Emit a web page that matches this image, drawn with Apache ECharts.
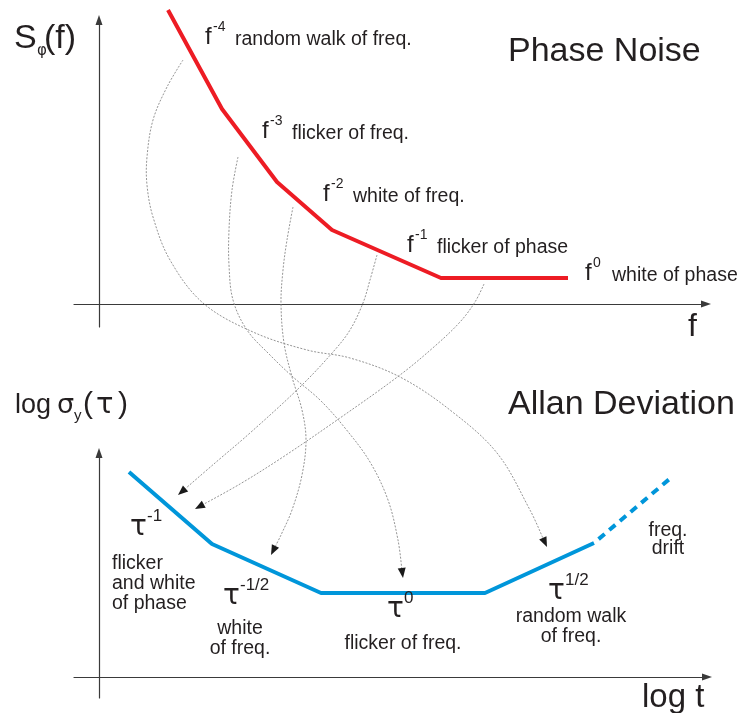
<!DOCTYPE html>
<html><head><meta charset="utf-8">
<script src="https://cdn.jsdelivr.net/npm/echarts@6/dist/echarts.min.js"></script>
<style>html,body{margin:0;padding:0;background:#fff}#c{width:743px;height:713px}</style>
</head><body><div id="c"></div>
<script>
// ---------- data (schematic units: log-frequency / log-tau, arbitrary) ----------
const psdX = [6.9, 12.3, 17.8, 23.3, 34.2, 46.9];
const psdY = [29.4, 19.5, 12.2, 7.4, 2.6, 2.6];
const adevX = [3.0, 11.3, 22.2, 38.6, 49.5];
const adevY = [20.5, 13.3, 8.4, 8.4, 13.4];
const driftX = [49.5, 57.4];
const driftY = [13.4, 20.1];

const psdExponents = ['-4', '-3', '-2', '-1', '0'];
const psdNames = ['random walk of freq.', 'flicker of freq.', 'white of freq.', 'flicker of phase', 'white of phase'];
const adevExponents = ['-1', '-1/2', '0', '1/2'];
const adevNames = [['flicker', 'and white', 'of phase'], ['white', 'of freq.'], ['flicker of freq.'], ['random walk', 'of freq.']];
const driftName = ['freq.', 'drift'];
const panelTitles = ['Phase Noise', 'Allan Deviation'];
const axisNames = ['f', 'log t'];

// connector curves (in phase-noise panel units), from PSD label to Allan segment
const linkRandomWalk = [[8.4,24.4],[6.8,21.7],[5.4,18.4],[4.8,14.7],[4.8,11.9],[5.4,8.7],[7.1,4.4],[10.4,0.1],[15.4,-2.8],[20.8,-4.6],[25.1,-5.4],[30.1,-7.3],[35.1,-10.6],[39.8,-14.9],[43.1,-20.6],[44.8,-24.3]];
const linkFlickerFreq = [[13.9,14.7],[13.3,11.4],[13.0,7.4],[13.0,3.9],[13.4,0.4],[14.8,-2.6],[17.1,-5.1],[19.4,-7.3],[22.1,-9.6],[24.6,-12.4],[27.1,-15.8],[28.9,-19.6],[29.9,-23.6],[30.4,-27.4]];
const linkWhiteFreq = [[19.4,9.7],[18.8,6.4],[18.4,3.4],[18.2,0.1],[18.5,-3.9],[19.3,-7.3],[20.3,-10.6],[20.7,-13.6],[20.3,-17.1],[19.3,-20.6],[18.2,-23.1],[17.2,-25.1]];
const linkFlickerPhase = [[27.8,4.9],[27.1,2.4],[26.4,0.1],[25.1,-2.6],[23.4,-4.8],[20.1,-8.3],[15.1,-12.9],[11.6,-15.9],[7.9,-19.1]];
const linkWhitePhase = [[38.5,2.0],[37.6,0.2],[36.1,-1.8],[33.6,-4.2],[30.1,-7.1],[24.1,-11.4],[18.4,-15.3],[14.1,-18.0],[9.6,-20.5]];
const links = [linkRandomWalk, linkFlickerFreq, linkWhiteFreq, linkFlickerPhase, linkWhitePhase];

// ---------- chart ----------
const chart = echarts.init(document.getElementById('c'), null, {renderer: 'canvas'});
const INK = '#231f20';
const SANS = '"Liberation Sans", Arial, sans-serif';
const GREEK = '"DejaVu Sans", sans-serif';

function txt(s, x, baseline, size, opt) {
  opt = opt || {};
  return {
    type: 'text', silent: true, z: 10,
    style: {
      text: s, x: x, y: baseline - 0.34 * size,
      font: (opt.weight || 'normal') + ' ' + size + 'px ' + (opt.family || SANS),
      fill: INK, align: opt.align || 'left', verticalAlign: 'middle'
    }
  };
}

const g = [];
// top panel titles
g.push(txt('S', 14, 50, 34));
g.push(txt('\u03c6', 37, 56, 15, {family: GREEK}));
g.push(txt('(f)', 44, 50, 34));
g.push(txt(panelTitles[0], 508, 63, 34));
g.push(txt(axisNames[0], 688, 338, 32));
// PSD labels
const psdLab = [[205, 46], [262, 140], [323, 203], [407, 254], [585, 282]];
psdLab.forEach((p, i) => {
  g.push(txt('f', p[0], p[1], 24));
  g.push(txt(psdExponents[i], p[0] + 8, p[1] - 14, 14));
  g.push(txt(psdNames[i], p[0] + (i === 4 ? 27 : 30), p[1], 19.5));
});
// bottom panel titles
g.push(txt('log', 15, 415, 27));
g.push(txt('\u03c3', 57, 415, 27, {family: GREEK}));
g.push(txt('y', 74, 421, 15));
g.push(txt('(', 83, 415, 30));
g.push(txt('\u03c4', 96, 415, 29, {family: GREEK}));
g.push(txt(')', 118, 415, 30));
g.push(txt(panelTitles[1], 508, 416, 34));
g.push(txt(axisNames[1], 642, 709, 33));
// Allan labels
const tauPos = [[130, 537], [223, 606], [387, 619], [548, 601]];
tauPos.forEach((p, i) => {
  g.push(txt('\u03c4', p[0], p[1], 28, {family: GREEK}));
  g.push(txt(adevExponents[i], p[0] + 17, p[1] - 15, 17));
});
const namePos = [[112, 570, 'left'], [240, 635, 'center'], [403, 650, 'center'], [571, 623, 'center']];
namePos.forEach((p, i) => {
  adevNames[i].forEach((line, k) => {
    g.push(txt(line, p[0], p[1] + k * 20, 19.5, {align: p[2]}));
  });
});
driftName.forEach((line, k) => g.push(txt(line, 668, 537 + k * 18, 19.5, {align: 'center'})));

function axisPair(gridIndex, xmax, ymin, ymax) {
  const line = {show: true, onZero: true, symbol: ['none', 'triangle'], symbolSize: [7, 10],
    lineStyle: {color: '#3a3a3a', width: 1.2}};
  return {
    x: {gridIndex, type: 'value', min: -2.5, max: xmax, axisLine: line, axisTick: {show: false},
      axisLabel: {show: false}, splitLine: {show: false}},
    y: {gridIndex, type: 'value', min: ymin, max: ymax, axisLine: line, axisTick: {show: false},
      axisLabel: {show: false}, splitLine: {show: false}}
  };
}
const a0 = axisPair(0, 60.7, -2.3, 28.4);
const a1 = axisPair(1, 60.8, -2.1, 22.4);

const option = {
  backgroundColor: '#ffffff',
  animation: false,
  grid: [
    {left: 74, top: 20, width: 632, height: 307},
    {left: 74, top: 453, width: 633, height: 245}
  ],
  xAxis: [a0.x, a1.x],
  yAxis: [a0.y, a1.y],
  graphic: g,
  series: [
    {
      type: 'custom', xAxisIndex: 0, yAxisIndex: 0, clip: false, z: 1, silent: true,
      data: links.map(c => c[0]),
      renderItem: function (params, api) {
        const pts = links[params.dataIndex].map(p => api.coord(p));
        const n = pts.length;
        const tip = pts[n - 1], prev = pts[n - 2];
        const ang = Math.atan2(tip[1] - prev[1], tip[0] - prev[0]);
        const L = 10, W = 4;
        const bx = tip[0] - L * Math.cos(ang), by = tip[1] - L * Math.sin(ang);
        const linePts = pts.slice(0, n - 1).concat([[bx, by]]);
        return {
          type: 'group', children: [
            {type: 'polyline', shape: {points: linePts, smooth: 0.35},
              style: {stroke: '#888888', lineWidth: 0.9, lineDash: [2, 1.5], fill: null}},
            {type: 'polygon', shape: {points: [tip,
              [bx - W * Math.sin(ang), by + W * Math.cos(ang)],
              [bx + W * Math.sin(ang), by - W * Math.cos(ang)]]},
              style: {fill: '#1a1a1a'}}
          ]
        };
      }
    },
    {
      type: 'line', xAxisIndex: 0, yAxisIndex: 0, clip: false, z: 3, silent: true,
      data: psdX.map((x, i) => [x, psdY[i]]), symbol: 'none',
      lineStyle: {color: '#ED1C24', width: 4, join: 'round'}
    },
    {
      type: 'line', xAxisIndex: 1, yAxisIndex: 1, clip: false, z: 3, silent: true,
      data: adevX.map((x, i) => [x, adevY[i]]), symbol: 'none',
      lineStyle: {color: '#0096DA', width: 4}
    },
    {
      type: 'line', xAxisIndex: 1, yAxisIndex: 1, clip: false, z: 3, silent: true,
      data: driftX.map((x, i) => [x, driftY[i]]), symbol: 'none',
      lineStyle: {color: '#0096DA', width: 4, type: [8, 6], dashOffset: 8}
    }
  ]
};
chart.setOption(option);
</script>
</body></html>
